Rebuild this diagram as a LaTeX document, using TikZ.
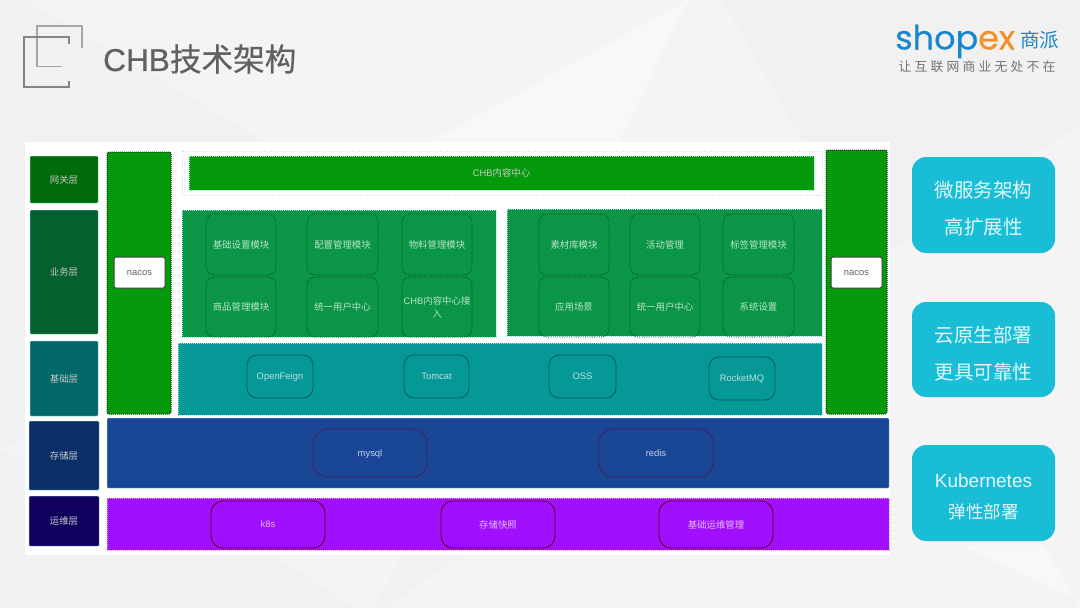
\documentclass[tikz,border=0pt]{standalone}
\usepackage{fontspec}
\setmainfont{Noto Sans CJK SC}
\newfontfamily\lat{Liberation Sans}
\newfontfamily\logofont[FakeBold=0.3]{Poppins}
\newfontfamily\spaced[LetterSpace=25]{Noto Sans CJK SC}
\newfontfamily\titlecjk[FakeBold=0.5]{Noto Sans CJK SC}
\newfontfamily\titlelat[FakeBold=0.5]{Liberation Sans}
\newcommand\lt[1]{\raisebox{-3.3pt}[0pt][0pt]{\lat #1}}
\definecolor{bgc}{HTML}{F4F4F4}
\definecolor{darkfacet}{HTML}{F1F1F1}
\definecolor{lightfacet}{HTML}{F8F8F8}
\definecolor{gwc}{HTML}{006B0A}
\definecolor{bizc}{HTML}{04602E}
\definecolor{basec}{HTML}{056868}
\definecolor{storec}{HTML}{0A2F68}
\definecolor{opsc}{HTML}{12005F}
\definecolor{nacosc}{HTML}{059A0B}
\definecolor{panelc}{HTML}{0A9646}
\definecolor{tealc}{HTML}{069896}
\definecolor{bluec}{HTML}{1A4696}
\definecolor{purpc}{HTML}{A010FF}
\definecolor{cardc}{HTML}{19BDD6}
\definecolor{lineC}{HTML}{8FE8E0}
\definecolor{logoblue}{HTML}{1A86D0}
\definecolor{logoorange}{HTML}{F0912A}
\tikzset{
  base/.style={inner sep=0pt,outer sep=0pt,font=\fontsize{9.4}{13}\selectfont,align=center,text=white!78!black},
  finedash/.style={dash pattern=on 1.2pt off 0.8pt},
  layerbox/.style={base,fill=#1,draw=lineC,line width=0.5pt,finedash,rounded corners=1pt},
  sidebar/.style={base,fill=nacosc,draw=black!65!nacosc,line width=1pt,dash pattern=on 1pt off 1pt,rounded corners=2pt},
  nacosbox/.style={base,fill=white,draw=black!75,line width=1pt,rounded corners=2pt,text=black!62},
  panelbox/.style={base,fill=#1,draw=lineC,line width=0.5pt,finedash},
  modbox/.style={base,draw=black!55!panelc,line width=0.7pt,dash pattern=on 1pt off 1.3pt,rounded corners=8pt,text=white!72!panelc},
  techbox/.style={base,draw=black!40!tealc,line width=0.8pt,rounded corners=10pt,text=white!72!tealc},
  storebox/.style={base,draw=black!45!purple!70!bluec,line width=0.9pt,dash pattern=on 1.5pt off 0.8pt,rounded corners=14pt,text=white!75!bluec},
  opsbox/.style={base,draw=black!50!purple,line width=0.9pt,rounded corners=12pt,text=white!72!purpc},
  cardbox/.style={base,fill=cardc,rounded corners=14pt,text=white!88!cardc,font=\fontsize{19.5}{37}\selectfont},
  iconline/.style={line width=1.8pt,line cap=butt,line join=miter}
}
\newcommand\bx[7]{\node[#2,minimum width={(#5-#3)*1pt},minimum height={(#6-#4)*1pt}] (#1) at ({(#3+#5)/2},{(#4+#6)/2}) {#7};}
\begin{document}
\begin{tikzpicture}[x=1pt,y=-1pt]
\useasboundingbox (0,0) rectangle (1080,608);
\fill[bgc] (0,0) rectangle (1080,608);
% faint background facets
\fill[darkfacet] (0,0) -- (25,0) -- (245,130) -- (420,230) -- (0,450) -- cycle;
\fill[lightfacet] (688,0) -- (425,145) -- (617,145) -- cycle;
\fill[darkfacet] (722,0) -- (1080,0) -- (1080,125) -- (890,250) -- (806,145) -- cycle;
\fill[darkfacet] (0,450) -- (272,555) -- (355,608) -- (0,608) -- cycle;
\fill[darkfacet] (403,555) -- (461,555) -- (385,608) -- (375,608) -- cycle;
\fill[lightfacet] (960,545) -- (1043,545) -- (1080,608) -- (1080,600) -- cycle;
% title icon
\draw[iconline,black!35] (62,66.5) -- (37,66.5) -- (37,26) -- (82,26) -- (82,48);
\draw[iconline,black!48] (69,44) -- (69,37) -- (24,37) -- (24,87) -- (69,87) -- (69,81);
\node[inner sep=0pt,anchor=west,text=black!62,font=\fontsize{31.6}{36}\selectfont] (title) at (103,59) {{\titlelat CHB}{\titlecjk 技术架构}};
% logo
\node[inner sep=0pt,anchor=base west,font=\fontsize{33.5}{36}\logofont\selectfont] (logo) at (895,49.5) {\textcolor{logoblue}{shop}\textcolor{logoorange}{ex}};
\node[inner sep=0pt,anchor=west,text=logoblue,font=\fontsize{19.5}{22}\selectfont] (logocn) at (1020,40) {商派};
\node[inner sep=0pt,anchor=west,text=black!55,font=\fontsize{12.8}{14}\spaced\selectfont] (slogan) at (898.5,66.5) {让互联网商业无处不在};
% white panel
\bx{sheet}{base,fill=white}{25}{142}{890}{555}{}
% layers
\bx{gw}{layerbox=gwc}{30}{156}{98}{203}{网关层}
\bx{biz}{layerbox=bizc}{30}{210}{98}{334}{业务层}
\bx{basel}{layerbox=basec}{30}{341}{98}{416}{基础层}
\bx{store}{layerbox=storec}{29}{421}{99}{490}{存储层}
\bx{ops}{layerbox=opsc}{29}{496}{99}{546}{运维层}
% nacos
\bx{navl}{sidebar}{107}{152}{171}{414}{}
\bx{navr}{sidebar}{826}{150}{887}{414}{}
\bx{nacl}{nacosbox}{114}{257}{165}{288}{\lt{nacos}}
\bx{nacr}{nacosbox}{831}{257}{882}{288}{\lt{nacos}}
% content centre
\node[base,draw=blue!15,line width=0.8pt,dash pattern=on 1pt off 1.2pt,minimum width=640pt,minimum height=44pt] (ccout) at (502,173) {};
\bx{cc}{panelbox=nacosc}{189}{156}{814}{190}{{\lat CHB}内容中心}
% green panels
\bx{pl}{panelbox=panelc}{182}{210}{496}{337}{}
\bx{pr}{panelbox=panelc}{507}{209}{822}{336}{}
\bx{m1}{modbox}{206}{214}{276}{275}{基础设置模块}
\bx{m2}{modbox}{307}{214}{378}{275}{配置管理模块}
\bx{m3}{modbox}{402}{214}{472}{275}{物料管理模块}
\bx{m4}{modbox}{206}{277}{276}{337}{商品管理模块}
\bx{m5}{modbox}{307}{277}{378}{337}{统一用户中心}
\bx{m6}{modbox}{402}{277}{472}{337}{{\lat CHB}内容中心接\\入}
\bx{n1}{modbox}{539}{214}{609}{275}{素材库模块}
\bx{n2}{modbox}{630}{214}{700}{275}{活动管理}
\bx{n3}{modbox}{723}{214}{794}{275}{标签管理模块}
\bx{n4}{modbox}{539}{277}{609}{337}{应用场景}
\bx{n5}{modbox}{630}{277}{700}{337}{统一用户中心}
\bx{n6}{modbox}{723}{277}{794}{337}{系统设置}
% base layer
\bx{tp}{panelbox=tealc}{178}{343}{822}{415}{}
\bx{t1}{techbox}{247}{355}{313}{398}{\lt{OpenFeign}}
\bx{t2}{techbox}{404}{355}{469}{398}{\lt{Tomcat}}
\bx{t3}{techbox}{549}{355}{616}{398}{\lt{OSS}}
\bx{t4}{techbox}{709}{357}{775}{400}{\lt{RocketMQ}}
% storage
\bx{sp}{layerbox=bluec}{107}{418}{889}{488}{}
\bx{s1}{storebox}{313}{429}{427}{477}{\lt{mysql}}
\bx{s2}{storebox}{599}{429}{713}{477}{\lt{redis}}
% ops
\bx{op}{panelbox=purpc,draw=purpc!45!white}{107}{498}{889}{550}{}
\bx{o1}{opsbox}{211}{501}{325}{548}{\lt{k8s}}
\bx{o2}{opsbox}{441}{501}{555}{548}{存储快照}
\bx{o3}{opsbox}{659}{501}{773}{548}{基础运维管理}
% cards
\bx{c1}{cardbox}{912}{157}{1055}{253}{\rule{0pt}{24pt}微服务架构\\高扩展性}
\bx{c2}{cardbox}{912}{302}{1055}{397}{\rule{0pt}{24pt}云原生部署\\更具可靠性}
\bx{c3}{cardbox}{912}{445}{1055}{541}{\rule{0pt}{22pt}{\lat\fontsize{19}{37}\selectfont Kubernetes}\\[-6pt]{\fontsize{17.5}{30}\selectfont 弹性部署}}
\end{tikzpicture}
\end{document}
